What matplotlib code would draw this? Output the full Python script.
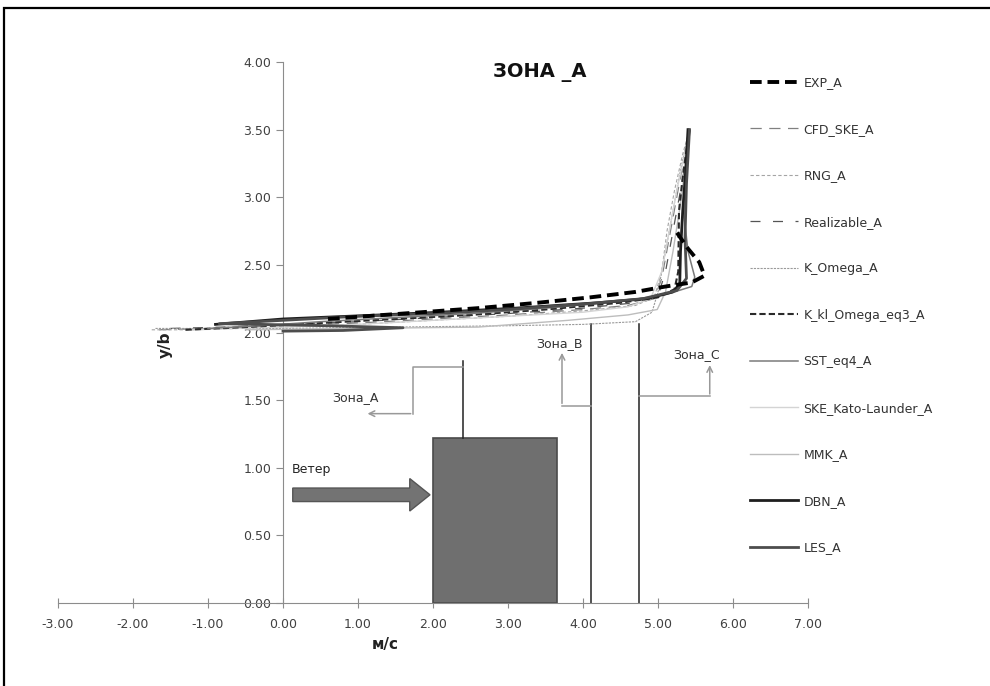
import matplotlib.pyplot as plt
from matplotlib.patches import Rectangle, FancyArrow

plt.rcParams['font.family'] = ['DejaVu Sans']

# velocity profiles above the block, u (m/s) against y/b
exp_u = [0.6, 1.6, 2.6, 3.4, 4.1, 4.7, 5.1, 5.45, 5.62, 5.55, 5.40, 5.25]
exp_y = [2.10, 2.14, 2.18, 2.22, 2.26, 2.30, 2.34, 2.37, 2.42, 2.52, 2.62, 2.74]

cfd_u = [-1.65, -1.0, 0.0, 1.0, 2.0, 3.0, 4.0, 4.6, 4.95, 5.05, 5.15, 5.25, 5.35, 5.42]
cfd_y = [2.02, 2.03, 2.05, 2.07, 2.10, 2.13, 2.17, 2.20, 2.25, 2.40, 2.70, 3.00, 3.30, 3.50]

rng_u = [-1.75, -1.2, 0.0, 1.0, 2.0, 3.0, 4.0, 4.7, 4.95, 5.05, 5.12, 5.22, 5.33, 5.42]
rng_y = [2.02, 2.02, 2.04, 2.06, 2.09, 2.12, 2.16, 2.20, 2.26, 2.45, 2.75, 3.05, 3.32, 3.50]

real_u = [-1.5, -0.8, 0.0, 1.0, 2.0, 3.0, 4.0, 4.7, 5.0, 5.1, 5.2, 5.3, 5.38, 5.43]
real_y = [2.03, 2.04, 2.06, 2.08, 2.11, 2.14, 2.18, 2.22, 2.27, 2.45, 2.75, 3.05, 3.30, 3.50]

komega_u = [-1.7, -1.0, 0.0, 1.5, 3.0, 4.0, 4.7, 4.92, 5.0, 5.1, 5.2, 5.3, 5.42]
komega_y = [2.03, 2.03, 2.03, 2.04, 2.05, 2.06, 2.08, 2.15, 2.30, 2.60, 2.90, 3.20, 3.50]

kkl_u = [-1.3, -0.5, 0.5, 1.5, 2.5, 3.5, 4.5, 5.0, 5.22, 5.27, 5.28, 5.33, 5.38, 5.42]
kkl_y = [2.02, 2.04, 2.07, 2.10, 2.13, 2.17, 2.22, 2.26, 2.32, 2.45, 2.90, 3.15, 3.35, 3.50]

sst_u = [-1.0, -0.3, 0.5, 1.5, 2.5, 3.5, 4.5, 5.1, 5.45, 5.49, 5.40, 5.35, 5.38, 5.42]
sst_y = [2.03, 2.05, 2.08, 2.11, 2.14, 2.18, 2.23, 2.28, 2.34, 2.41, 2.60, 2.85, 3.20, 3.50]

skekl_u = [-1.2, 0.0, 1.0, 2.0, 3.0, 4.0, 4.6, 4.9, 5.05, 5.15, 5.25, 5.35, 5.42]
skekl_y = [2.02, 2.04, 2.06, 2.09, 2.12, 2.15, 2.19, 2.25, 2.45, 2.75, 3.05, 3.30, 3.50]

mmk_u = [-0.5, 1.0, 2.6, 3.8, 4.6, 4.99, 5.1, 5.2, 5.3, 5.38, 5.42]
mmk_y = [2.02, 2.03, 2.04, 2.09, 2.13, 2.17, 2.30, 2.60, 2.95, 3.30, 3.50]

dbn_u = [-0.9, 0.0, 1.3, 2.1, 3.1, 4.2, 4.85, 5.2, 5.29, 5.30, 5.33, 5.37, 5.40]
dbn_y = [2.06, 2.10, 2.13, 2.15, 2.18, 2.22, 2.25, 2.30, 2.36, 2.60, 2.90, 3.20, 3.50]

les_u = [0.0, 0.8, 1.6, 0.6, -0.3, -0.85, 0.0, 1.0, 2.0, 3.0, 4.0, 4.8, 5.25, 5.38, 5.36, 5.38, 5.42]
les_y = [2.01, 2.015, 2.035, 2.05, 2.06, 2.065, 2.09, 2.12, 2.14, 2.17, 2.21, 2.25, 2.31, 2.40, 2.70, 3.10, 3.50]

# block and measuring lines
block_x = [2.0, 3.65]
block_h = 1.22
zone_a_x = 2.40
zone_b_x = 4.11
zone_c_x = 4.75

xticks = [-3, -2, -1, 0, 1, 2, 3, 4, 5, 6, 7]
yticks = [0, 0.5, 1.0, 1.5, 2.0, 2.5, 3.0, 3.5, 4.0]

fig = plt.figure(figsize=(9.9, 6.86), dpi=100)
ax = fig.add_axes([58/990, 83/686, 750/990, 541/686])

ax.set_xlim(-3, 7)
ax.set_ylim(0, 4)

# building
ax.add_patch(Rectangle((block_x[0], 0), block_x[1] - block_x[0], block_h,
                       fc='#6f6f6f', ec='#4a4a4a', lw=1.2, zorder=2))

# wind arrow
ax.add_patch(FancyArrow(0.13, 0.80, 1.83, 0, width=0.10, head_width=0.24,
                        head_length=0.27, length_includes_head=True,
                        fc='#737373', ec='#555555', lw=1, zorder=2))
ax.text(0.12, 0.99, 'Ветер', fontsize=9, color='#222222', va='center')

# zone A marker
ax.plot([zone_a_x, zone_a_x], [block_h, 1.79], color='#222222', lw=1.1)
ax.plot([zone_a_x, 1.73, 1.73], [1.745, 1.745, 1.40], color='#999999', lw=1.1)
ax.annotate('', xy=(1.09, 1.40), xytext=(1.74, 1.40),
            arrowprops=dict(arrowstyle='->', color='#999999', lw=1.1))
ax.text(0.96, 1.52, 'Зона_А', fontsize=9, color='#333333', ha='center', va='center')

# zone B marker
ax.plot([zone_b_x, zone_b_x], [0, 2.06], color='#222222', lw=1.1)
ax.plot([zone_b_x, 3.72], [1.46, 1.46], color='#999999', lw=1.1)
ax.annotate('', xy=(3.72, 1.87), xytext=(3.72, 1.455),
            arrowprops=dict(arrowstyle='->', color='#999999', lw=1.1))
ax.text(3.69, 1.92, 'Зона_В', fontsize=9, color='#333333', ha='center', va='center')

# zone C marker
ax.plot([zone_c_x, zone_c_x], [0, 2.06], color='#222222', lw=1.1)
ax.plot([zone_c_x, 5.69], [1.53, 1.53], color='#999999', lw=1.1)
ax.annotate('', xy=(5.69, 1.78), xytext=(5.69, 1.525),
            arrowprops=dict(arrowstyle='->', color='#999999', lw=1.1))
ax.text(5.52, 1.84, 'Зона_С', fontsize=9, color='#333333', ha='center', va='center')

# profiles
ax.plot(exp_u, exp_y, color='black', lw=2.8, dashes=(3, 1.5), label='EXP_A', zorder=6)
ax.plot(cfd_u, cfd_y, color='#808080', lw=0.9, dashes=(9, 6), label='CFD_SKE_A', zorder=3)
ax.plot(rng_u, rng_y, color='#a5a5a5', lw=0.8, dashes=(3, 2), label='RNG_A', zorder=3)
ax.plot(real_u, real_y, color='#555555', lw=0.9, dashes=(8, 10), label='Realizable_A', zorder=3)
ax.plot(komega_u, komega_y, color='#9a9a9a', lw=0.8, dashes=(2, 1), label='K_Omega_A', zorder=3)
ax.plot(kkl_u, kkl_y, color='#2a2a2a', lw=1.5, dashes=(3, 1.5), label='K_kl_Omega_eq3_A', zorder=4)
ax.plot(sst_u, sst_y, color='#7a7a7a', lw=1.1, label='SST_eq4_A', zorder=4)
ax.plot(skekl_u, skekl_y, color='#d4d4d4', lw=1.0, label='SKE_Kato-Launder_A', zorder=3)
ax.plot(mmk_u, mmk_y, color='#bdbdbd', lw=1.0, label='MMK_A', zorder=3)
ax.plot(dbn_u, dbn_y, color='#1e1e1e', lw=2.0, label='DBN_A', zorder=5)
ax.plot(les_u, les_y, color='#4d4d4d', lw=2.0, label='LES_A', zorder=5)

# axes crossing at zero
ax.spines['left'].set_position(('data', 0))
ax.spines['top'].set_visible(False)
ax.spines['right'].set_visible(False)
for s in ['left', 'bottom']:
    ax.spines[s].set_color('#8c8c8c')
ax.set_xticks(xticks)
ax.set_yticks(yticks)
ax.set_xticklabels([f'{v:.2f}' for v in xticks])
ax.set_yticklabels([f'{v:.2f}' for v in yticks])
ax.tick_params(axis='x', direction='inout', length=7, color='#8c8c8c',
               labelsize=9, labelcolor='#404040', pad=7)
ax.tick_params(axis='y', direction='out', length=5, color='#8c8c8c',
               labelsize=9, labelcolor='#404040')

ax.text(-1.57, 1.91, 'y/b', rotation=90, fontsize=11, fontweight='bold',
        ha='center', va='center', color='#222222')
ax.text(1.36, -0.31, 'м/с', fontsize=11, fontweight='bold',
        ha='center', va='center', color='#222222', clip_on=False)
fig.text(540/990, 1 - 72/686, 'ЗОНА _А', fontsize=14, fontweight='bold',
         ha='center', va='center', color='#111111')

ax.legend(loc='upper left', bbox_to_anchor=(744/990, 1 - 70/686),
          bbox_transform=fig.transFigure, frameon=False, fontsize=9,
          handlelength=3.85, handletextpad=0.4, labelspacing=2.68, borderpad=0)
for t in ax.get_legend().get_texts():
    t.set_color('#333333')

# outer frame
fig.add_artist(Rectangle((4/990, -0.1), 1.2, 1.1 - 8/686, transform=fig.transFigure,
                         fill=False, ec='black', lw=1.6))

fig.savefig('out.png', dpi=100)
